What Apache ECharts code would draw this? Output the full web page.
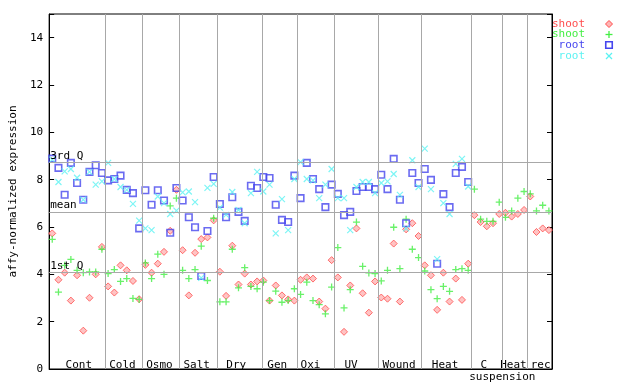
<!DOCTYPE html>
<html><head><meta charset="utf-8">
<script src="https://cdn.jsdelivr.net/npm/echarts@6/dist/echarts.min.js"></script>
<style>html,body{margin:0;padding:0;background:#fff}#c{width:640px;height:384px}</style>
</head><body><div id="c"></div>
<script>
// ---- data ----
const groupNames = ['Cont','Cold','Osmo','Salt','Dry','Gen','Oxi','UV','Wound','Heat','C','Heat','rec'];
const groupSizes = [9,6,6,6,7,6,6,7,7,8,5,4,4];
const separators = [9,15,21,27,34.33,40,46,53,60,68,73,77];
const labelPos = [4.78,11.8,17.77,23.76,30.13,36.75,42.09,48.63,56.36,63.77,70.0,74.78,79.16];
const subLabel = 'suspension';
const subLabelPos = 73.0;
const statLabels = ['3rd Q','mean','1st Q'];
const statValues = [8.72,6.63,4.07];
const yTickLabels = [0,2,4,6,8,10,12,14];
const seriesNames = ['shoot','shoot','root','root'];

const shootA = [5.73,3.77,4.07,2.89,3.96,1.62,3.01,4.00,5.16,
  3.49,3.23,4.38,4.17,3.72,2.95,
  4.40,4.07,4.45,4.95,5.84,7.57,
  5.02,3.11,4.91,5.49,5.56,6.28,
  4.11,3.09,5.21,3.57,4.03,3.57,3.70,
  3.74,2.89,3.53,3.11,2.94,2.89,
  3.77,3.87,3.82,2.85,2.55,4.60,
  3.87,1.57,3.53,5.94,3.20,2.38,3.70,
  3.02,2.97,5.30,2.85,5.90,6.16,5.62,
  4.38,3.96,2.50,4.07,2.85,3.82,2.92,4.45,
  6.50,6.21,6.03,6.16,6.55,
  6.60,6.44,6.55,6.72,
  7.29,5.79,5.94,5.87];
const shootB = [5.48,3.25,4.38,4.63,4.17,4.07,4.10,4.10,5.06,
  4.03,4.20,3.70,3.82,2.98,2.94,
  4.48,3.82,4.85,4.00,6.89,7.22,
  4.17,3.82,4.20,5.19,3.74,6.37,
  2.84,2.84,5.06,3.43,4.28,3.49,3.39,
  3.67,2.89,3.29,2.82,2.89,3.39,
  3.15,3.67,2.89,2.72,2.33,3.46,
  5.13,2.58,3.35,6.21,4.34,4.06,4.03,
  3.72,4.17,5.99,4.24,6.33,5.06,4.71,
  4.14,3.35,2.97,3.49,3.28,4.20,4.24,4.17,
  7.60,6.33,6.24,6.24,7.05,
  6.41,6.68,7.22,7.50,
  7.40,6.68,6.92,6.68];
const rootA = [8.89,8.50,7.36,8.71,7.86,7.15,8.33,8.61,8.28,
  7.97,8.03,8.17,7.57,7.43,5.94,
  7.55,6.94,7.55,7.12,5.76,7.65,
  7.12,6.41,5.99,3.93,5.83,8.11,
  6.97,6.41,7.26,6.64,6.26,7.74,7.65,
  8.11,8.07,6.94,6.30,6.21,8.17,
  7.22,8.71,8.03,7.60,6.84,7.79,
  7.40,6.50,6.64,7.52,7.69,7.69,7.60,
  8.21,7.60,8.88,7.15,6.16,8.28,7.86,
  8.45,7.99,4.45,7.39,6.84,8.28,8.54,7.90,
  null,null,null,null,null,
  null,null,null,null,
  null,null,null,null];
const rootB = [8.85,7.90,8.35,8.45,8.08,7.15,8.33,7.79,7.93,
  8.71,8.03,7.69,7.57,6.98,6.27,
  5.94,5.87,7.29,7.01,6.55,6.69,
  7.46,7.50,7.05,3.85,7.65,7.82,
  6.82,6.51,7.48,6.72,6.16,7.43,8.33,
  7.50,7.79,5.73,7.18,5.87,8.03,
  8.74,8.03,7.97,7.22,7.79,8.45,
  7.22,7.22,5.87,7.69,7.90,7.90,7.43,
  7.86,7.93,8.24,7.36,5.94,8.82,7.69,
  9.31,7.60,4.64,7.01,6.55,8.67,8.88,7.71,
  null,null,null,null,null,
  null,null,null,null,
  null,null,null,null];

// ---- styling ----
const FONT = 'DejaVu Sans Mono';
const RED = '#ff4d4d', GREEN = '#44ee44', BLUE = '#4646ee', CYAN = '#5cf2f2';
const GRAY = '#a8a8a8';
const nSamples = groupSizes.reduce((a,b)=>a+b,0);
const toPts = arr => arr.map((v,i)=>[i+0.5, v]).filter(p=>p[1]!=null);

const chart = echarts.init(document.getElementById('c'), null, {renderer:'canvas'});
const yAxisBase = {
  type:'value', min:0, max:15, interval:2,
  axisLine:{show:true, lineStyle:{color:'#000', width:1}},
  axisTick:{show:true, inside:true, length:5, lineStyle:{color:'#000'}},
  splitLine:{show:false}
};
chart.setOption({
  animation:false,
  backgroundColor:'#fff',
  grid:{left:44, right:88, top:14, bottom:15, show:true, borderColor:'#000', borderWidth:1, backgroundColor:'transparent'},
  xAxis:{type:'value', min:0, max:nSamples, axisLine:{show:true, lineStyle:{color:'#000'}},
    axisTick:{show:false}, axisLabel:{show:false}, splitLine:{show:false}},
  yAxis:[
    Object.assign({}, yAxisBase, {position:'left',
      name:'affy-normalized expression', nameLocation:'middle', nameGap:30, nameRotate:90,
      nameTextStyle:{fontFamily:FONT, fontSize:11, color:'#000'},
      axisLabel:{show:true, fontFamily:FONT, fontSize:11, color:'#000', margin:6,
        formatter: v => yTickLabels.includes(v) ? String(v) : ''}}),
    Object.assign({}, yAxisBase, {position:'right', axisLabel:{show:false}})
  ],
  series:[
    {type:'line', data:[], z:1, silent:true,
      markLine:{silent:true, symbol:'none', animation:false,
        lineStyle:{color:GRAY, type:'solid', width:1},
        data: separators.map(s=>({xAxis:s, label:{show:false}}))
          .concat(statValues.map((v,k)=>({yAxis:v,
            label:{show:true, formatter:statLabels[k], position:'insideStartTop',
              fontFamily:FONT, fontSize:11, color:'#000', distance:[1,1]}})))
      }},
    {type:'scatter', name:seriesNames[0], data:toPts(shootA), symbol:'diamond', symbolSize:7, z:3, silent:true,
      itemStyle:{color:'#ffb4b4', borderColor:RED, borderWidth:1}},
    {type:'scatter', name:seriesNames[1], data:toPts(shootB), symbol:'path://M5,0L5,10M0,5L10,5', symbolSize:7, z:3, silent:true,
      itemStyle:{color:'rgba(0,0,0,0)', borderColor:GREEN, borderWidth:1.3}},
    {type:'scatter', name:seriesNames[2], data:toPts(rootA), symbol:'rect', symbolSize:6.5, z:3, silent:true,
      itemStyle:{color:'rgba(0,0,0,0)', borderColor:BLUE, borderWidth:1.6}},
    {type:'scatter', name:seriesNames[3], data:toPts(rootB), symbol:'path://M0,0L10,10M10,0L0,10', symbolSize:6, z:3, silent:true,
      itemStyle:{color:'rgba(0,0,0,0)', borderColor:CYAN, borderWidth:1.2}}
  ]
});

// group labels and legend
const y0 = chart.convertToPixel({gridIndex:0}, [0,0])[1];
const g = [];
groupNames.forEach((name,k)=>{
  const px = chart.convertToPixel({gridIndex:0}, [labelPos[k],0])[0];
  g.push({type:'text', x:px, y:y0-4, style:{text:name, font:'11px '+FONT, fill:'#000', align:'center', verticalAlign:'middle'}});
});
g.push({type:'text', x:chart.convertToPixel({gridIndex:0}, [subLabelPos,0])[0], y:y0+8,
  style:{text:subLabel, font:'11px '+FONT, fill:'#000', align:'center', verticalAlign:'middle'}});
const legColors = [RED, GREEN, BLUE, CYAN];
const legY = [24, 34.5, 45, 56];
const mx = 609;
seriesNames.forEach((n,k)=>{
  g.push({type:'text', x:585, y:legY[k], style:{text:n, font:'11px '+FONT, fill:legColors[k], align:'right', verticalAlign:'middle'}});
});
g.push({type:'polygon', shape:{points:[[mx,legY[0]-3.5],[mx+3.5,legY[0]],[mx,legY[0]+3.5],[mx-3.5,legY[0]]]}, style:{fill:'#ffb4b4', stroke:RED, lineWidth:1}});
g.push({type:'line', shape:{x1:mx-3.5,y1:legY[1],x2:mx+3.5,y2:legY[1]}, style:{stroke:GREEN, lineWidth:1.3}});
g.push({type:'line', shape:{x1:mx,y1:legY[1]-3.5,x2:mx,y2:legY[1]+3.5}, style:{stroke:GREEN, lineWidth:1.3}});
g.push({type:'rect', shape:{x:mx-3.25,y:legY[2]-3.25,width:6.5,height:6.5}, style:{fill:'none', stroke:BLUE, lineWidth:1.6}});
g.push({type:'line', shape:{x1:mx-3,y1:legY[3]-3,x2:mx+3,y2:legY[3]+3}, style:{stroke:CYAN, lineWidth:1.2}});
g.push({type:'line', shape:{x1:mx+3,y1:legY[3]-3,x2:mx-3,y2:legY[3]+3}, style:{stroke:CYAN, lineWidth:1.2}});
chart.setOption({graphic:g});
</script>
</body></html>
